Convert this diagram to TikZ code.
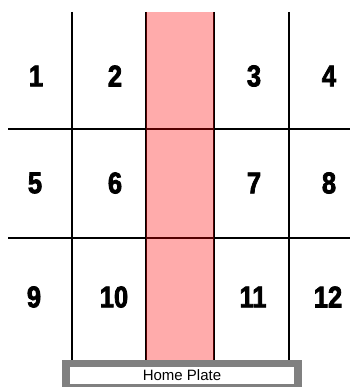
\documentclass[tikz,border=0pt]{standalone}
\usepackage{fontspec}
\setmainfont{Liberation Sans}
\newfontfamily\numfont[FakeStretch=0.85,FakeBold=2.5]{Liberation Sans Bold}
\begin{document}
\begin{tikzpicture}[x=1pt,y=-1pt,
  gridline/.style={draw=black,line width=2pt},
  zonenum/.style={font=\numfont\fontsize{30}{30}\selectfont,inner sep=0pt},
  platelabel/.style={font=\fontsize{15}{15}\selectfont,inner sep=0pt}]
\useasboundingbox (0,0) rectangle (350,387);
\begin{scope}
\clip (0,0) rectangle (350,387);
% grid
\coordinate (v1t) at (72,12);   \coordinate (v1b) at (72,360);
\coordinate (v2t) at (146,12);  \coordinate (v2b) at (146,360);
\coordinate (v3t) at (214,12);  \coordinate (v3b) at (214,360);
\coordinate (v4t) at (289,12);  \coordinate (v4b) at (289,360);
\coordinate (h1l) at (8,129);   \coordinate (h1r) at (350,129);
\coordinate (h2l) at (8,238);   \coordinate (h2r) at (350,238);
\draw[gridline] (v1t) -- (v1b);
\draw[gridline] (v2t) -- (v2b);
\draw[gridline] (v3t) -- (v3b);
\draw[gridline] (v4t) -- (v4b);
\draw[gridline] (h1l) -- (h1r);
\draw[gridline] (h2l) -- (h2r);
% strike strip
\fill[red,opacity=0.33] (v2t) rectangle (v3b);
% home plate
\draw[draw=gray,line width=7.5pt,fill=white] (66,363.5) rectangle (298,388);
\end{scope}
\node[platelabel] (hp) at (182,375) {Home Plate};
% numbers
\node[zonenum] (n1) at (36,76) {1};
\node[zonenum] (n2) at (115,76) {2};
\node[zonenum] (n3) at (254,76) {3};
\node[zonenum] (n4) at (329,76) {4};
\node[zonenum] (n5) at (35,183) {5};
\node[zonenum] (n6) at (115,183) {6};
\node[zonenum] (n7) at (254,183) {7};
\node[zonenum] (n8) at (329,183) {8};
\node[zonenum] (n9) at (34,297) {9};
\node[zonenum] (n10) at (114,297) {10};
\node[zonenum] (n11) at (253,297) {11};
\node[zonenum] (n12) at (328,297) {12};
\end{tikzpicture}
\end{document}
